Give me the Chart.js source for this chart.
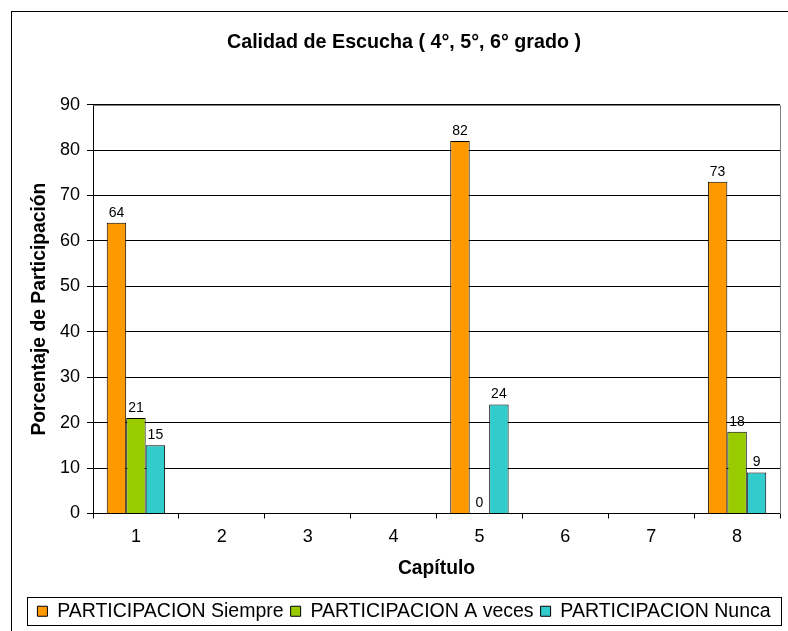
<!DOCTYPE html>
<html>
<head>
<meta charset="utf-8">
<script src="https://cdn.jsdelivr.net/npm/chart.js@4.4.1/dist/chart.umd.min.js"></script>
<style>
  html, body { margin: 0; padding: 0; background: #fff; }
  #wrap { width: 788px; height: 631px; }
</style>
</head>
<body>
<div id="wrap"><canvas id="chart" width="788" height="631"></canvas></div>
<script>
// chart values
const capitulos = ["1", "2", "3", "4", "5", "6", "7", "8"];
const siempre = [64, null, null, null, 82, null, null, 73];
const aVeces = [21, null, null, null, 0, null, null, 18];
const nunca = [15, null, null, null, 24, null, null, 9];
const seriesNames = ["PARTICIPACION Siempre", "PARTICIPACION A veces", "PARTICIPACION Nunca"];
const seriesColors = ["#FF9900", "#99CC00", "#33CCCC"];

const FONT = "'Liberation Sans', Arial, sans-serif";

// outer frame, plot border and legend frame
const framePlugin = {
    id: "frame",
    beforeDraw(chart) {
        const ctx = chart.ctx;
        ctx.save();
        ctx.fillStyle = "#fff";
        ctx.fillRect(0, 0, chart.width, chart.height);
        ctx.strokeStyle = "#000";
        ctx.lineWidth = 1;
        ctx.strokeRect(11.5, 11.5, 820, 700);
        ctx.restore();
    },
    beforeDatasetsDraw(chart) {
        const a = chart.chartArea;
        const ctx = chart.ctx;
        ctx.save();
        ctx.strokeStyle = "#808080";
        ctx.lineWidth = 1;
        ctx.beginPath();
        ctx.moveTo(Math.round(a.left) + 0.5, Math.round(a.top) + 0.5);
        ctx.lineTo(Math.round(a.right) + 0.5, Math.round(a.top) + 0.5);
        ctx.lineTo(Math.round(a.right) + 0.5, Math.round(a.bottom));
        ctx.stroke();
        ctx.restore();
    },
    afterDraw(chart) {
        const boxes = chart.legend.legendHitBoxes;
        if (!boxes || !boxes.length) return;
        const ctx = chart.ctx;
        let left = Infinity, right = -Infinity, top = Infinity, bottom = -Infinity;
        boxes.forEach(function (b) {
            left = Math.min(left, b.left);
            right = Math.max(right, b.left + b.width);
            top = Math.min(top, b.top);
            bottom = Math.max(bottom, b.top + b.height);
        });
        ctx.save();
        ctx.strokeStyle = "#000";
        ctx.lineWidth = 1;
        ctx.strokeRect(Math.round(left - 10) + 0.5, Math.round(top - 5) + 0.5,
            Math.round(right - left + 21), Math.round(bottom - top + 8));
        ctx.restore();
    }
};

// value labels above bars
const valueLabels = {
    id: "valueLabels",
    afterDatasetsDraw(chart) {
        const ctx = chart.ctx;
        ctx.save();
        ctx.font = "14px " + FONT;
        ctx.fillStyle = "#000";
        ctx.textAlign = "center";
        ctx.textBaseline = "bottom";
        chart.data.datasets.forEach(function (ds, i) {
            const meta = chart.getDatasetMeta(i);
            meta.data.forEach(function (bar, j) {
                const v = ds.data[j];
                if (v === null || v === undefined) return;
                ctx.fillText(String(v), bar.x, bar.y - 3);
            });
        });
        ctx.restore();
    }
};

const ctx = document.getElementById("chart");
new Chart(ctx, {
    type: "bar",
    data: {
        labels: capitulos,
        datasets: [siempre, aVeces, nunca].map(function (vals, i) {
            return {
                label: seriesNames[i],
                data: vals,
                backgroundColor: seriesColors[i],
                borderColor: "#000",
                borderWidth: 1,
                categoryPercentage: 0.68,
                barPercentage: 1.0
            };
        })
    },
    options: {
        responsive: false,
        animation: false,
        devicePixelRatio: 1,
        layout: { padding: { left: 28, right: 8, top: 0, bottom: 0 } },
        plugins: {
            title: {
                display: true,
                text: "Calidad de Escucha ( 4°, 5°, 6° grado )",
                color: "#000",
                font: { family: FONT, size: 19.7, weight: "bold" },
                padding: { top: 31, bottom: 50 }
            },
            legend: {
                display: true,
                position: "bottom",
                labels: {
                    color: "#000",
                    font: { family: FONT, size: 19.5 },
                    boxWidth: 10,
                    boxHeight: 10,
                    padding: 7
                }
            },
            tooltip: { enabled: false }
        },
        scales: {
            x: {
                offset: true,
                grid: {
                    offset: true,
                    drawOnChartArea: false,
                    color: "#000",
                    tickLength: 5
                },
                border: { color: "#000" },
                ticks: {
                    color: "#000",
                    font: { family: FONT, size: 18 },
                    padding: 8,
                    maxRotation: 0
                },
                title: {
                    display: true,
                    text: "Capítulo",
                    color: "#000",
                    font: { family: FONT, size: 19.3, weight: "bold" },
                    padding: { top: 0, bottom: 14 }
                },
                afterFit: function (scale) { scale.height = 81; }
            },
            y: {
                min: 0,
                max: 90,
                ticks: {
                    stepSize: 10,
                    color: "#000",
                    font: { family: FONT, size: 18 },
                    padding: 7
                },
                grid: { color: "#000", tickLength: 6 },
                border: { color: "#000" },
                title: {
                    display: true,
                    text: "Porcentaje de Participación",
                    color: "#000",
                    font: { family: FONT, size: 19.3, weight: "bold" },
                    padding: { top: 0, bottom: 0 }
                },
                afterFit: function (scale) { scale.width = 65; }
            }
        }
    },
    plugins: [framePlugin, valueLabels]
});
</script>
</body>
</html>
